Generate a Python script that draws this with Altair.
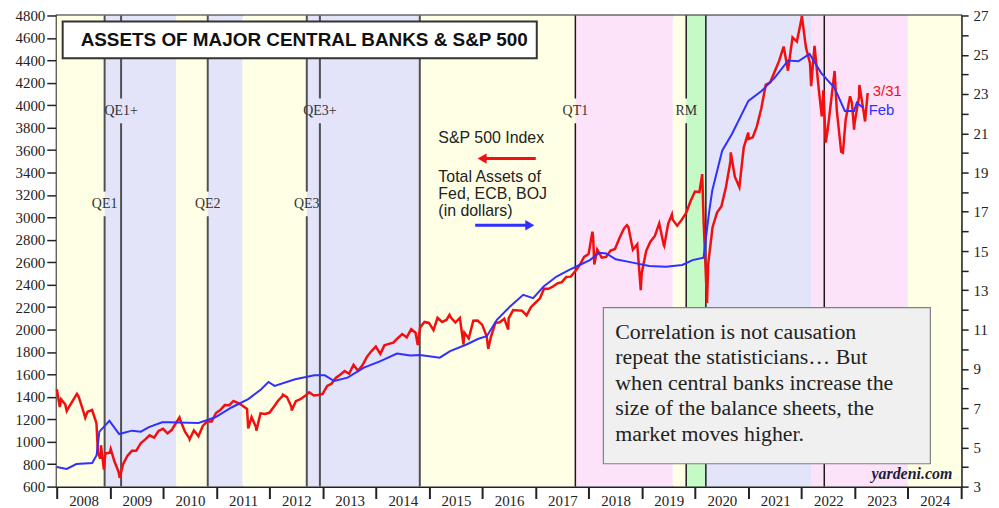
import altair as alt
import pandas as pd

# ---------------- data ----------------
# S&P 500 month-end closes, Jan 2008 .. Mar 2023
sp_monthly = [
    1379, 1331, 1323, 1386, 1400, 1280, 1267, 1283, 1166, 969, 896, 903,
    826, 735, 798, 873, 919, 919, 987, 1021, 1057, 1036, 1096, 1115,
    1074, 1104, 1169, 1187, 1089, 1031, 1102, 1049, 1141, 1183, 1181, 1258,
    1286, 1327, 1326, 1364, 1345, 1321, 1292, 1219, 1131, 1253, 1247, 1258,
    1312, 1366, 1408, 1398, 1310, 1362, 1379, 1407, 1441, 1412, 1416, 1426,
    1498, 1515, 1569, 1598, 1631, 1606, 1686, 1633, 1682, 1757, 1806, 1848,
    1783, 1859, 1872, 1884, 1924, 1960, 1931, 2003, 1972, 2018, 2068, 2059,
    1995, 2105, 2068, 2086, 2107, 2063, 2104, 1972, 1920, 2079, 2080, 2044,
    1940, 1932, 2060, 2065, 2097, 2099, 2174, 2171, 2168, 2126, 2199, 2239,
    2279, 2364, 2363, 2384, 2412, 2423, 2470, 2472, 2519, 2575, 2648, 2674,
    2824, 2714, 2641, 2648, 2705, 2718, 2816, 2902, 2914, 2712, 2760, 2507,
    2704, 2784, 2834, 2946, 2752, 2942, 2980, 2926, 2977, 3038, 3141, 3231,
    3226, 2954, 2585, 2912, 3044, 3100, 3271, 3500, 3363, 3270, 3622, 3756,
    3714, 3811, 3973, 4181, 4204, 4298, 4395, 4523, 4308, 4605, 4567, 4766,
    4516, 4374, 4530, 4132, 4132, 3785, 4130, 3955, 3586, 3872, 4080, 3840,
    4077, 3970, 4109,
]
# intra-month highs / lows
sp_extra_dates = [
    "2008-01-02", "2008-01-22", "2008-03-10", "2008-05-19", "2008-07-15",
    "2008-10-10", "2008-10-27", "2008-11-20", "2009-01-06", "2009-03-09",
    "2010-04-23", "2010-07-02", "2011-04-29", "2011-08-08", "2011-10-03",
    "2012-04-02", "2012-06-01", "2014-10-15", "2015-05-21", "2015-08-25",
    "2016-02-11", "2016-06-27", "2018-01-26", "2018-02-08", "2018-09-20",
    "2018-12-24", "2019-06-03", "2019-07-26", "2020-02-19", "2020-03-23",
    "2020-09-02", "2021-01-04", "2022-01-03", "2022-03-08", "2022-05-20",
    "2022-06-16", "2022-08-16", "2022-10-12", "2022-12-13", "2022-12-28",
    "2023-02-02", "2023-03-13",
]
sp_extra_vals = [
    1468, 1310, 1273, 1426, 1214,
    899, 848, 752, 935, 677,
    1217, 1022, 1364, 1119, 1099,
    1419, 1278, 1862, 2131, 1867,
    1829, 2000, 2873, 2581, 2931,
    2351, 2744, 3025, 3386, 2237,
    3580, 3700, 4797, 4170, 3900,
    3667, 4305, 3577, 4019, 3783,
    4180, 3855,
]

# Total assets of Fed, ECB, BOJ (trillion dollars, right axis)
assets_dates = [
    "2008-01-01", "2008-03-10", "2008-05-15", "2008-09-01", "2008-10-01",
    "2008-10-20", "2008-12-28", "2009-03-05", "2009-06-01", "2009-08-01",
    "2009-09-25", "2009-12-25", "2010-02-10", "2010-09-01", "2010-12-25",
    "2011-04-15", "2011-08-08", "2011-11-05", "2011-12-25", "2012-02-05",
    "2012-06-25", "2012-11-05", "2013-01-15", "2013-03-20", "2013-06-20",
    "2013-10-10", "2014-02-01", "2014-05-25", "2014-08-25", "2014-10-30",
    "2015-03-15", "2015-05-25", "2015-09-15", "2015-12-05", "2016-02-01",
    "2016-04-10", "2016-07-10", "2016-10-08", "2016-12-15", "2017-02-25",
    "2017-05-25", "2017-08-20", "2017-10-30", "2018-01-08", "2018-03-15",
    "2018-05-01", "2018-07-05", "2018-10-30", "2019-02-20", "2019-06-15",
    "2019-10-05", "2019-12-15", "2020-02-28", "2020-04-05", "2020-04-28",
    "2020-07-05", "2020-09-10", "2021-01-01", "2021-04-01", "2021-07-01",
    "2021-10-01", "2021-12-10", "2022-02-25", "2022-05-15", "2022-08-15",
    "2022-10-25", "2022-12-28", "2023-01-15", "2023-02-28",
]
assets_vals = [
    4.0, 3.9, 4.15, 4.2, 4.6,
    5.8, 6.35, 5.68, 5.85, 5.8,
    6.03, 6.28, 6.28, 6.24, 6.53,
    7.03, 7.46, 7.96, 8.33, 8.13,
    8.47, 8.67, 8.67, 8.38, 8.55,
    9.06, 9.39, 9.78, 9.68, 9.7,
    9.57, 9.9, 10.24, 10.53, 10.66,
    11.5, 12.18, 12.77, 12.6, 13.19,
    13.7, 14.04, 14.29, 14.54, 14.91,
    14.88, 14.58, 14.41, 14.24, 14.2,
    14.29, 14.54, 14.66, 16.9, 18.09,
    20.11, 20.96, 22.65, 23.15, 23.83,
    24.71, 24.67, 25.04, 24.08, 23.32,
    22.14, 22.14, 22.56, 22.3,
]

# policy regimes (background bands)
reg_start = ["2008-01-01", "2008-11-25", "2010-03-31", "2010-11-03", "2011-06-30",
             "2012-09-13", "2014-10-29", "2017-10-01", "2019-08-01", "2019-11-01",
             "2020-03-15", "2022-03-07", "2024-01-01"]
reg_end = ["2008-11-25", "2010-03-31", "2010-11-03", "2011-06-30", "2012-09-13",
           "2014-10-29", "2017-10-01", "2019-08-01", "2019-11-01", "2020-03-15",
           "2022-03-07", "2024-01-01", "2025-01-01"]
reg_kind = ["none", "QE", "none", "QE", "none", "QE", "none", "QT", "none", "RM",
            "QE", "QT", "none"]
kind_names = ["none", "QE", "QT", "RM"]
kind_colors = ["#FFFFE6", "#E3E3FA", "#FDE3FA", "#C5F9C5"]

# event lines
ev_dates = ["2008-11-25", "2009-03-18", "2010-11-03", "2012-09-13", "2012-12-12",
            "2014-10-29", "2017-10-01", "2019-11-01", "2020-03-15", "2022-06-06"]
ev_labels = ["QE1", "QE1+", "QE2", "QE3", "QE3+", "", "QT1", "RM", "", ""]
ev_level = [3120, 3950, 3120, 3120, 3950, None, 3950, 3950, None, None]
ev_grey = [True, True, True, True, True, True, False, False, False, False]

title_text = "ASSETS OF MAJOR CENTRAL BANKS & S&P 500"
legend_sp = "S&P 500 Index"
legend_assets = ["Total Assets of", "Fed, ECB, BOJ", "(in dollars)"]
note_lines = ["Correlation is not causation",
              "repeat the statisticians\u2026 But",
              "when central banks increase the",
              "size of the balance sheets, the",
              "market moves higher."]
source_text = "yardeni.com"
last_sp = "3/31"
last_assets = "Feb"

# ---------------- tables ----------------
sp_dates = pd.date_range("2008-01-31", periods=len(sp_monthly), freq="ME")
sp = pd.concat([
    pd.DataFrame({"date": sp_dates, "v": sp_monthly}),
    pd.DataFrame({"date": pd.to_datetime(sp_extra_dates), "v": sp_extra_vals}),
]).sort_values("date")
sp["date"] = sp["date"].dt.strftime("%Y-%m-%d")

assets = pd.DataFrame({"date": assets_dates, "v": assets_vals})
regions = pd.DataFrame({"start": reg_start, "end": reg_end, "kind": reg_kind})

GAP = 110
seg_rows = []
lab_rows = []
for d, lab, lvl, g in zip(ev_dates, ev_labels, ev_level, ev_grey):
    if lvl is None:
        seg_rows.append({"date": d, "top": 4800, "bot": 600, "grey": g})
    else:
        seg_rows.append({"date": d, "top": 4800, "bot": lvl + GAP, "grey": g})
        seg_rows.append({"date": d, "top": lvl - GAP, "bot": 600, "grey": g})
        lab_rows.append({"date": d, "lvl": lvl, "label": lab})
segs = pd.DataFrame(seg_rows)
labs = pd.DataFrame(lab_rows)

# ---------------- chart ----------------
W, H = 910, 474
SERIF = "Liberation Serif"
SANS = "Liberation Sans"
INK = "#222222"

xscale = alt.Scale(domain=[alt.DateTime(year=2008, month=1, date=1),
                           alt.DateTime(year=2025, month=1, date=1)])
xaxis = alt.Axis(
    values=[alt.DateTime(year=y, month=1, date=1) for y in range(2008, 2026)],
    labelExpr="year(datum.value) < 2025 ? timeFormat(datum.value, '%Y') : ''",
    labelOffset=27, labelFont=SERIF, labelFontSize=15, labelColor=INK,
    labelOverlap=False, labelFlush=False, labelPadding=-5,
    tickSize=12, tickWidth=2, tickColor=INK, domainColor=INK, domainWidth=2,
    grid=False, title=None)

yL = alt.Scale(domain=[600, 4800], nice=False, zero=False)
yaxisL = alt.Axis(values=list(range(600, 4801, 200)), format="d", labelFont=SERIF,
                  labelFontSize=15, labelColor=INK, tickSize=10, tickWidth=1.5,
                  tickColor=INK, domainColor=INK, domainWidth=2, labelPadding=2,
                  grid=False, title=None, orient="left")
yR = alt.Scale(domain=[3, 27], nice=False, zero=False)
yaxisR = alt.Axis(values=list(range(3, 28)), labelExpr="datum.value % 2 == 1 ? datum.value : ''",
                  labelFont=SERIF, labelFontSize=15, labelColor=INK, tickSize=7,
                  tickWidth=1.5, tickColor=INK, domainColor=INK, domainWidth=2,
                  labelPadding=5, grid=False, title=None, orient="right")

bg = alt.Chart(regions).mark_rect().encode(
    x=alt.X("start:T", scale=xscale, axis=xaxis),
    x2="end:T",
    color=alt.Color("kind:N", scale=alt.Scale(domain=kind_names, range=kind_colors), legend=None),
)

rules_grey = alt.Chart(segs).transform_filter("datum.grey").mark_rule(
    color="#505050", strokeWidth=2).encode(
    x="date:T", y=alt.Y("top:Q", scale=yL, axis=yaxisL, title=None), y2="bot:Q")
rules_dark = alt.Chart(segs).transform_filter("!datum.grey").mark_rule(
    color="#1a1a1a", strokeWidth=1.5).encode(
    x="date:T", y=alt.Y("top:Q", scale=yL, axis=yaxisL, title=None), y2="bot:Q")

ev_text = alt.Chart(labs).mark_text(font=SERIF, fontSize=14, color="#333333",
                                    baseline="middle", align="center").encode(
    x="date:T", y=alt.Y("lvl:Q", scale=yL, axis=yaxisL, title=None), text="label:N")

red = alt.Chart(sp).mark_line(color="#F01010", strokeWidth=2.5).encode(
    x="date:T", y=alt.Y("v:Q", scale=yL, axis=yaxisL, title=None))

left_group = alt.layer(bg, rules_grey, rules_dark, ev_text, red)

blue = alt.Chart(assets).mark_line(color="#3030FF", strokeWidth=2).encode(
    x="date:T", y=alt.Y("v:Q", scale=yR, axis=yaxisR, title=None))

one = pd.DataFrame({"k": [0]})


def box(x1, x2, y1, y2, **kw):
    return alt.Chart(one).mark_rect(**kw).encode(
        x=alt.value(x1), x2=alt.value(x2), y=alt.value(y1), y2=alt.value(y2))


def txt(s, x, y, **kw):
    return alt.Chart(one).mark_text(**kw).encode(
        x=alt.value(x), y=alt.value(y), text=alt.value(s))


def seg(x1, x2, y, color, width):
    return alt.Chart(one).mark_rule(color=color, strokeWidth=width).encode(
        x=alt.value(x1), x2=alt.value(x2), y=alt.value(y))


def head(x, y, shape, color):
    return alt.Chart(one).mark_point(shape=shape, filled=True, color=color, size=110,
                                     opacity=1).encode(x=alt.value(x), y=alt.value(y))


ann = [
    box(6, 483, 6, 43, fill="white", stroke="#333333", strokeWidth=2),
    txt(title_text, 249, 25, font=SANS, fontSize=19, fontWeight="bold", color="#111111",
        align="center", baseline="middle"),
    txt(legend_sp, 384, 123, font=SANS, fontSize=16, color=INK, align="left", baseline="middle"),
    seg(430, 482, 144, "#F01010", 3),
    head(428, 144, "triangle-left", "#F01010"),
]
for i, line in enumerate(legend_assets):
    ann.append(txt(line, 384, 163 + i * 17, font=SANS, fontSize=16, color=INK,
                   align="left", baseline="middle"))
ann += [
    seg(421, 474, 211, "#3030FF", 3),
    head(476, 211, "triangle-right", "#3030FF"),
    txt(last_sp, 821, 76, font=SANS, fontSize=15, color="#F01010", align="left", baseline="middle"),
    txt(last_assets, 817, 95, font=SANS, fontSize=15, color="#3030FF", align="left", baseline="middle"),
    box(550, 879, 294, 451, fill="#F0F0F0", stroke="#808080", strokeWidth=1.2),
]
for i, line in enumerate(note_lines):
    ann.append(txt(line, 562, 325 + i * 25.7, font=SERIF, fontSize=22, color=INK,
                   align="left", baseline="alphabetic"))
ann.append(txt(source_text, 901, 466, font=SERIF, fontSize=16, fontWeight="bold",
               fontStyle="italic", color="#1c1c3c", align="right", baseline="alphabetic"))

chart = alt.layer(left_group, blue, *ann).resolve_scale(y="independent").properties(
    width=W, height=H,
    autosize=alt.AutoSizeParams(type="none"),
    padding={"left": 49, "top": 6, "right": 30, "bottom": 20},
).configure_view(stroke=INK, strokeWidth=2)

chart.save("out.html", embed_options={"renderer": "svg", "actions": False})
